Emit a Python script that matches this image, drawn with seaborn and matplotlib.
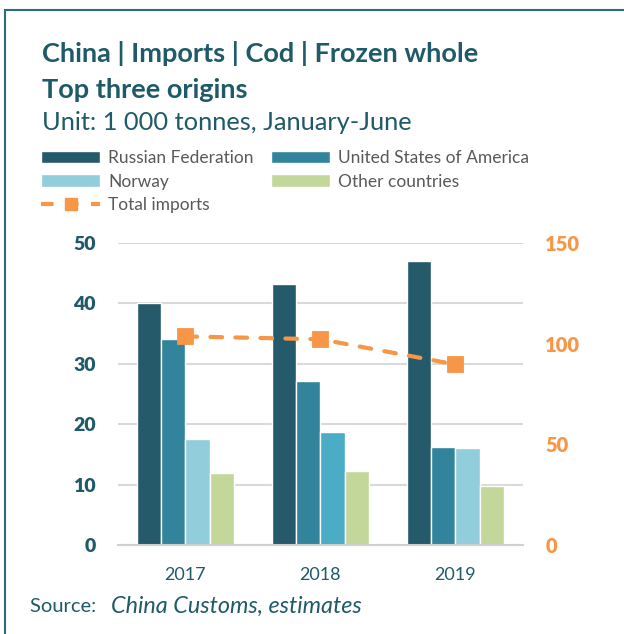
import pandas as pd
import numpy as np
import matplotlib.pyplot as plt
import seaborn as sns
from matplotlib.patches import Patch
from matplotlib.lines import Line2D

# China cod imports, frozen whole, Jan-Jun (1 000 tonnes)
years = ['2017', '2018', '2019']
russia = [40.0, 43.2, 47.0]
usa = [34.1, 27.1, 16.3]
norway = [17.5, 18.7, 16.1]
other = [12.0, 12.3, 9.7]
total = [103.6, 102.2, 89.7]
origins = ['Russian Federation', 'United States of America', 'Norway', 'Other countries']

teal_text = '#1F5A69'
orange = '#F79646'
colors = ['#245A6A', '#31849B', '#92CDDC', '#C4D79B']

df = pd.DataFrame({
    'year': years * 4,
    'origin': np.repeat(origins, 3),
    'value': russia + usa + norway + other,
})

sns.set_style('white')
plt.rcParams['font.family'] = ['Lato', 'DejaVu Sans']

fig = plt.figure(figsize=(6.24, 6.34), dpi=100)
ax = fig.add_axes([0.189, 0.1404, 0.649, 0.4763])

sns.barplot(data=df, x='year', y='value', hue='origin', hue_order=origins,
            palette=colors, saturation=1, width=0.72, edgecolor='white',
            linewidth=1, legend=False, ax=ax)
# 2018 Norway bar is drawn in a brighter blue in the source chart
ax.containers[2][1].set_facecolor('#4BACC6')

ax.set_ylim(0, 50)
ax.set_yticks([0, 10, 20, 30, 40, 50])
ax.set_xlim(-0.5, 2.5)
ax.yaxis.grid(True, color='#D9D9D9', linewidth=1.5)
ax.set_axisbelow(True)
for s in ['top', 'right', 'left']:
    ax.spines[s].set_visible(False)
ax.spines['bottom'].set_color('#D0D0D0')
ax.spines['bottom'].set_linewidth(1.5)
ax.tick_params(axis='both', length=0)
ax.tick_params(axis='y', pad=16, labelsize=14, labelcolor=teal_text)
ax.tick_params(axis='x', pad=16, labelsize=13, labelcolor=teal_text)
ax.set_xlabel('')
ax.set_ylabel('')

ax2 = ax.twinx()
sns.pointplot(x=years, y=total, ax=ax2, color=orange, markers='s',
              linestyles='--', markersize=9.5)
line = ax2.lines[0]
line.set_linewidth(3)
line.set_dashes([2.8, 3.2])
line.set_dash_capstyle('round')
ax2.set_ylim(0, 150)
ax2.set_yticks([0, 50, 100, 150])
ax2.set_xlim(-0.5, 2.5)
for s in ax2.spines.values():
    s.set_visible(False)
ax2.tick_params(axis='both', length=0)
ax2.tick_params(axis='y', pad=16, labelsize=14.5, labelcolor=orange)
ax2.set_ylabel('')
ax2.set_xlabel('')

# titles
fig.text(0.068, 0.915, 'China | Imports | Cod | Frozen whole', fontsize=19.5,
         fontweight='bold', color=teal_text, va='center')
fig.text(0.068, 0.858, 'Top three origins', fontsize=19.5,
         fontweight='bold', color=teal_text, va='center')
fig.text(0.068, 0.806, 'Unit: 1 000 tonnes, January-June', fontsize=18.3,
         color=teal_text, va='center')
fig.text(0.048, 0.034, 'Source: ', fontsize=14.5, color=teal_text,
         va='baseline')
fig.text(0.178, 0.034, 'China Customs, estimates', fontsize=16.8,
         color=teal_text, va='baseline', style='italic')

handles = [
    Patch(facecolor=colors[0], label=origins[0]),
    Patch(facecolor=colors[2], label=origins[2]),
    Line2D([0], [0], color=orange, lw=3, ls='--', marker='s', markersize=8,
           dashes=[3, 3], label='Total imports'),
    Patch(facecolor=colors[1], label=origins[1]),
    Patch(facecolor=colors[3], label=origins[3]),
]
leg = fig.legend(handles=handles, ncol=2, loc='upper left',
                 bbox_to_anchor=(0.066, 0.763), frameon=False, fontsize=12.5,
                 handlelength=3.4, handleheight=0.7, handletextpad=0.45,
                 columnspacing=1.0, labelspacing=0.42, borderaxespad=0,
                 borderpad=0)
for t in leg.get_texts():
    t.set_color('#595959')

# outer frame (left and top edges)
frame_color = '#2E6A7A'
fig.add_artist(Line2D([0.008, 0.008], [0, 0.984], color=frame_color, lw=1.5,
                      transform=fig.transFigure))
fig.add_artist(Line2D([0.008, 1], [0.984, 0.984], color=frame_color, lw=1.5,
                      transform=fig.transFigure))

# heavy tick labels once the ticks exist
fig.canvas.draw()
for t in ax.get_yticklabels() + ax2.get_yticklabels():
    t.set_fontweight(800)

plt.savefig('out.png', dpi=100)
